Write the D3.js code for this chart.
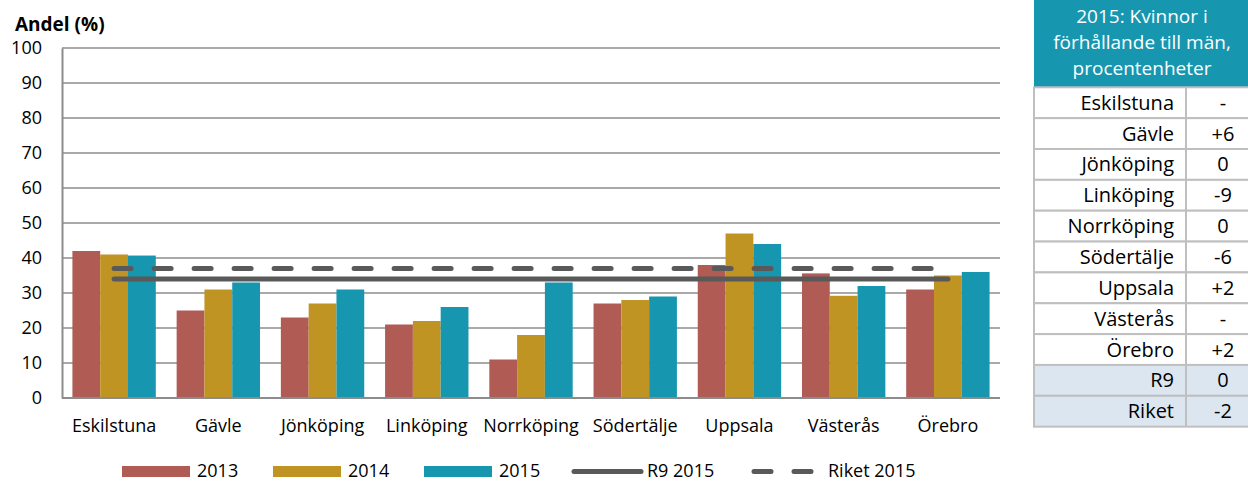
<!DOCTYPE html>
<html>
<head>
<meta charset="utf-8">
<script src="https://cdn.jsdelivr.net/npm/d3@7"></script>
<style>
  body { margin: 0; background: #fff; }
  svg { display: block; font-family: "Open Sans", sans-serif; }
</style>
</head>
<body>
<script>
const cities = ["Eskilstuna", "Gävle", "Jönköping", "Linköping", "Norrköping", "Södertälje", "Uppsala", "Västerås", "Örebro"]
const years = ["2013", "2014", "2015"]
const v2013 = [42, 25, 23, 21, 11, 27, 38, 35.6, 31]
const v2014 = [41, 31, 27, 22, 18, 28, 47, 29.2, 35]
const v2015 = [40.7, 33, 31, 26, 33, 29, 44, 32, 36]
const r9Value = 34
const riketValue = 37
const yTicks = [0, 10, 20, 30, 40, 50, 60, 70, 80, 90, 100]

const tableTitle = ["2015: Kvinnor i", "förhållande till män,", "procentenheter"]
const tableNames = ["Eskilstuna", "Gävle", "Jönköping", "Linköping", "Norrköping", "Södertälje", "Uppsala", "Västerås", "Örebro", "R9", "Riket"]
const tableDiff = ["-", "+6", "0", "-9", "0", "-6", "+2", "-", "+2", "0", "-2"]

const colors = { "2013": "#b05b54", "2014": "#c09423", "2015": "#1796af" }
const lineColor = "#595959"
const gridColor = "#8c8c8c"

const W = 1248, H = 481
const svg = d3.select('body').append('svg').attr('width', W).attr('height', H)

const plotLeft = 62, plotRight = 1000, plotTop = 48, plotBottom = 398

const x = d3.scaleBand().domain(cities).range([plotLeft, plotRight]).paddingInner(0.2).paddingOuter(0.1)
const xSub = d3.scaleBand().domain(years).range([0, x.bandwidth()])
const y = d3.scaleLinear().domain([0, 100]).range([plotBottom, plotTop])

// gridlines
svg.append('g')
  .selectAll('line')
  .data(yTicks.filter(d => d > 0))
  .enter()
  .append('line')
  .attr('x1', plotLeft).attr('x2', plotRight)
  .attr('y1', d => y(d)).attr('y2', d => y(d))
  .attr('stroke', gridColor)
  .attr('stroke-width', 1.5)

// y axis
const yAxis = d3.axisLeft(y).tickValues(yTicks).tickSize(0).tickPadding(20)
const gy = svg.append('g').attr('transform', `translate(${plotLeft},0)`).call(yAxis)
gy.select('.domain').attr('stroke', gridColor).attr('stroke-width', 2)
gy.selectAll('text').attr('font-size', 18).attr('fill', '#000').attr('font-family', '"Open Sans", sans-serif')

svg.append('text')
  .attr('x', 15).attr('y', 31)
  .attr('font-size', 19).attr('font-weight', 'bold')
  .text('Andel (%)')

// bars
const series = { "2013": v2013, "2014": v2014, "2015": v2015 }
const barData = []
cities.forEach((c, i) => years.forEach(yr => barData.push({ city: c, year: yr, value: series[yr][i] })))

svg.append('g')
  .selectAll('rect')
  .data(barData)
  .enter()
  .append('rect')
  .attr('x', d => x(d.city) + xSub(d.year))
  .attr('y', d => y(d.value))
  .attr('width', xSub.bandwidth())
  .attr('height', d => y(0) - y(d.value))
  .attr('fill', d => colors[d.year])

// x axis
const xAxis = d3.axisBottom(x).tickSize(0).tickPadding(21)
const gx = svg.append('g').attr('transform', `translate(0,${plotBottom})`).call(xAxis)
gx.select('.domain').attr('stroke', gridColor).attr('stroke-width', 2)
  .attr('d', `M${plotLeft},0H${plotRight}`)
gx.selectAll('text').attr('font-size', 18).attr('fill', '#000').attr('font-family', '"Open Sans", sans-serif')

// reference lines
const cx = c => x(c) + x.bandwidth() / 2
const refLine = v => d3.line().x(c => cx(c)).y(() => y(v))(cities)

svg.append('path')
  .attr('d', refLine(r9Value))
  .attr('fill', 'none').attr('stroke', lineColor)
  .attr('stroke-width', 5).attr('stroke-linecap', 'round')

svg.append('path')
  .attr('d', refLine(riketValue))
  .attr('fill', 'none').attr('stroke', lineColor)
  .attr('stroke-width', 5).attr('stroke-linecap', 'round')
  .attr('stroke-dasharray', '17,23')

// legend
const legY = 466
const legend = svg.append('g').attr('font-size', 18)
const legendRects = [{ key: "2013", x: 122 }, { key: "2014", x: 273 }, { key: "2015", x: 424 }]
legendRects.forEach(d => {
  legend.append('rect').attr('x', d.x).attr('y', legY).attr('width', 68).attr('height', 11).attr('fill', colors[d.key])
  legend.append('text').attr('x', d.x + 75).attr('y', legY + 11).text(d.key)
})
legend.append('line')
  .attr('x1', 574).attr('x2', 641).attr('y1', legY + 5.5).attr('y2', legY + 5.5)
  .attr('stroke', lineColor).attr('stroke-width', 5).attr('stroke-linecap', 'round')
legend.append('text').attr('x', 647).attr('y', legY + 11).text('R9 2015')
legend.append('line')
  .attr('x1', 754).attr('x2', 811).attr('y1', legY + 5.5).attr('y2', legY + 5.5)
  .attr('stroke', lineColor).attr('stroke-width', 5).attr('stroke-linecap', 'round')
  .attr('stroke-dasharray', '17,23')
legend.append('text').attr('x', 828).attr('y', legY + 11).text('Riket 2015')

// table
const tX = 1034, tSplit = 1186, tEnd = 1262, headH = 87.3, rowH = 30.85
const teal = "#1796af", border = "#bfbfbf"
const table = svg.append('g')

table.append('rect').attr('x', tX).attr('y', 0).attr('width', 300).attr('height', headH).attr('fill', teal)
table.selectAll('text.head')
  .data(tableTitle)
  .enter()
  .append('text')
  .attr('class', 'head')
  .attr('x', 1142)
  .attr('y', (d, i) => 23 + i * 26)
  .attr('text-anchor', 'middle')
  .attr('font-size', 19)
  .attr('fill', '#fff')
  .text(d => d)

const rows = table.selectAll('g.row')
  .data(tableNames)
  .enter()
  .append('g')
  .attr('class', 'row')
  .attr('transform', (d, i) => `translate(0,${headH + i * rowH})`)

rows.append('rect')
  .attr('x', tX).attr('width', tEnd - tX).attr('height', rowH)
  .attr('fill', (d, i) => i >= 9 ? '#dce6f1' : '#fff')
  .attr('stroke', border).attr('stroke-width', 2)
rows.append('line')
  .attr('x1', tSplit).attr('x2', tSplit).attr('y1', 0).attr('y2', rowH)
  .attr('stroke', border).attr('stroke-width', 2)
rows.append('text')
  .attr('x', 1174).attr('y', rowH / 2).attr('dy', '0.35em')
  .attr('text-anchor', 'end').attr('font-size', 20)
  .text(d => d)
rows.append('text')
  .attr('x', 1223).attr('y', rowH / 2).attr('dy', '0.35em')
  .attr('text-anchor', 'middle').attr('font-size', 20)
  .text((d, i) => tableDiff[i])
</script>
</body>
</html>
